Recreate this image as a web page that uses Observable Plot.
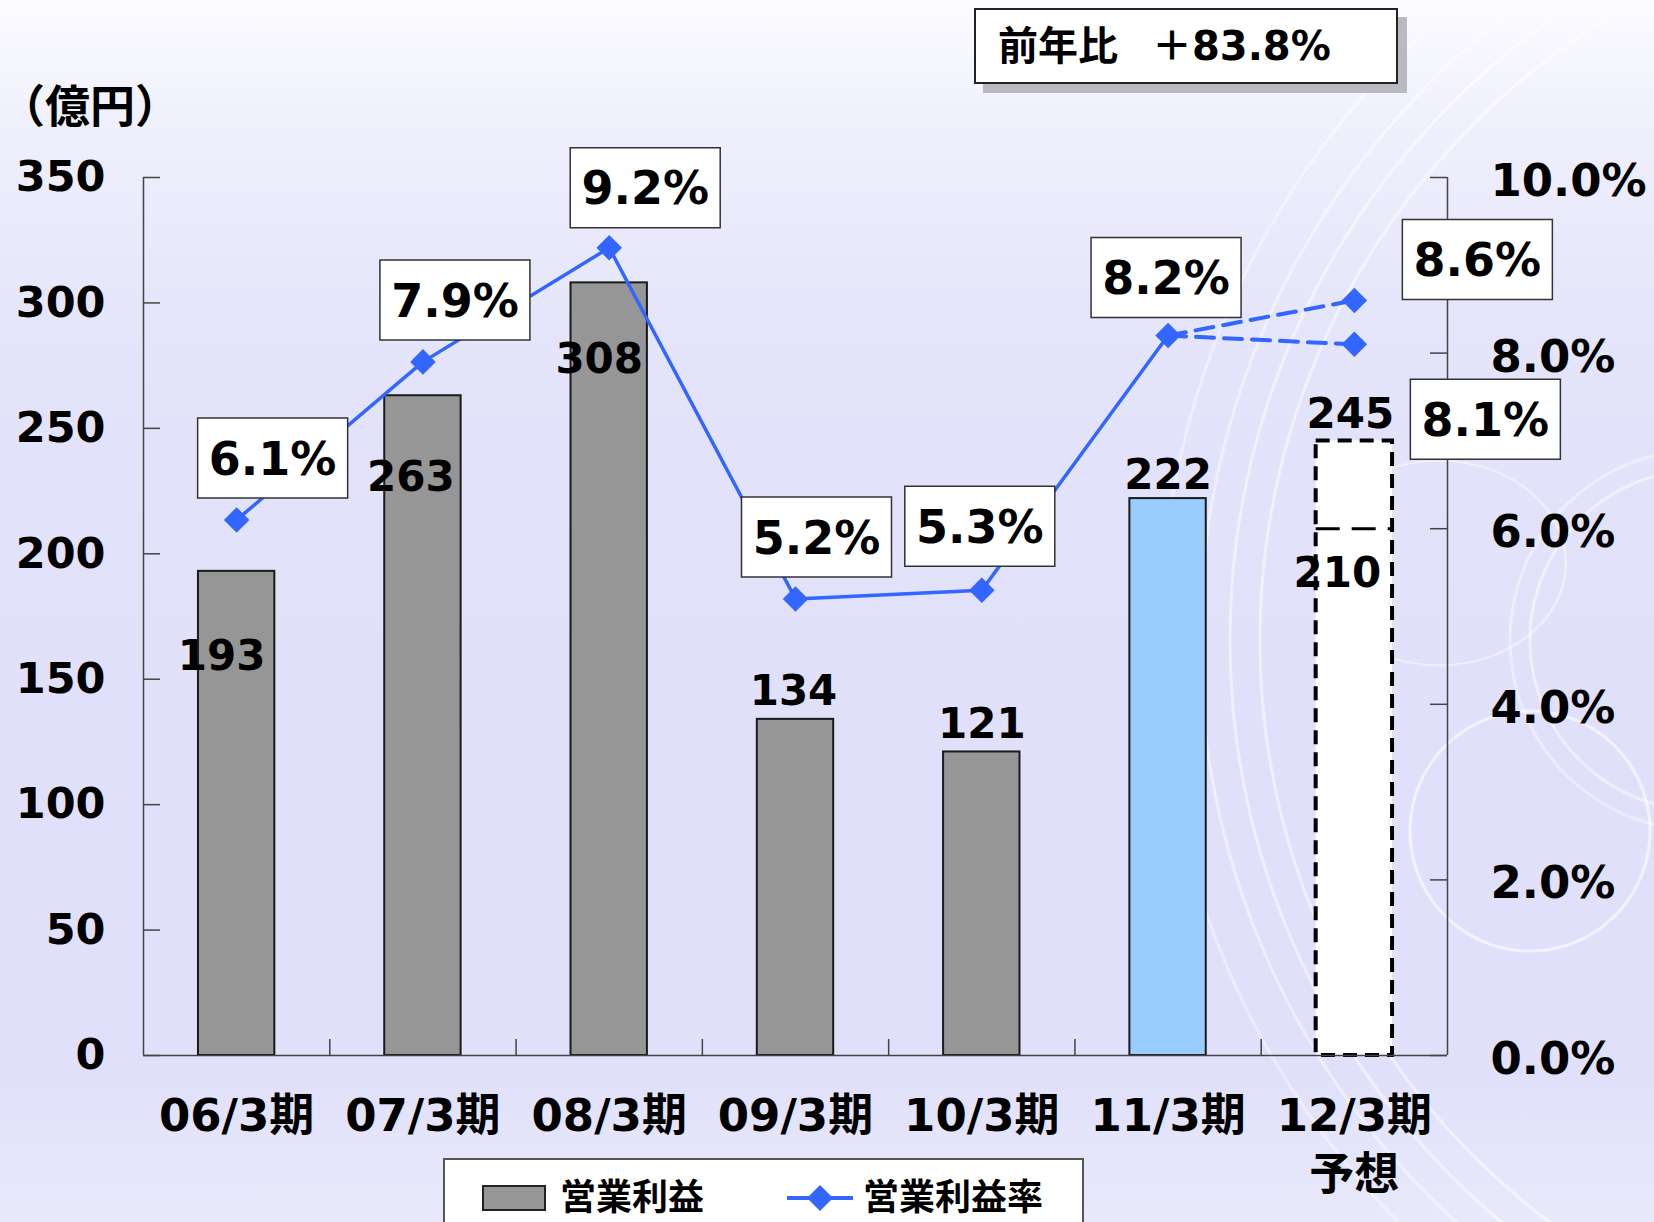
<!DOCTYPE html>
<html><head><meta charset="utf-8">
<script src="https://cdn.jsdelivr.net/npm/d3@7"></script>
<script src="https://cdn.jsdelivr.net/npm/@observablehq/plot@0.6"></script>
<style>
html,body{margin:0;padding:0;}
body{width:1654px;height:1222px;overflow:hidden;font-family:"DejaVu Sans","Noto Sans CJK JP",sans-serif;font-weight:bold;color:#000;}
#page{position:relative;width:1654px;height:1222px;overflow:hidden;
 background:
  radial-gradient(circle at 1990px 640px, transparent 728px, rgba(255,255,255,.5) 729px, rgba(255,255,255,.5) 731px, transparent 732px),
  radial-gradient(circle at 1990px 640px, transparent 758px, rgba(255,255,255,.5) 759px, rgba(255,255,255,.5) 761px, transparent 762px),
  radial-gradient(circle at 1990px 640px, transparent 788px, rgba(255,255,255,.45) 789px, rgba(255,255,255,.45) 791px, transparent 792px),
  radial-gradient(circle at 1990px 640px, transparent 828px, rgba(255,255,255,.4) 829px, rgba(255,255,255,.4) 831px, transparent 832px),
  radial-gradient(circle at 1530px 831px, transparent 118px, rgba(255,255,255,.6) 119px, rgba(255,255,255,.6) 121px, transparent 122px),
  radial-gradient(ellipse 129px 104px at 1439px 563px, transparent 97%, rgba(255,255,255,.6) 98%, transparent 100%),
  radial-gradient(circle at 1700px 640px, transparent 168px, rgba(255,255,255,.5) 169px, rgba(255,255,255,.5) 171px, transparent 172px),
  radial-gradient(circle at 1700px 640px, transparent 188px, rgba(255,255,255,.4) 189px, rgba(255,255,255,.4) 191px, transparent 192px),
  linear-gradient(to bottom, #FBFBFF 0%, #EEEEFC 12%, #E3E3FA 30%, #E0E0FA 60%, #E0E0FA 88%, #E9E9FB 100%);}
#chart{position:absolute;left:0;top:0;}
#unit{position:absolute;left:0px;top:82px;font-size:45px;line-height:52px;}
#yoy{position:absolute;left:974px;top:8px;width:398px;height:72px;background:#fff;border:2px solid #222;box-shadow:9px 9px 0 #B9B9C2;font-size:40px;line-height:72px;padding-left:22px;box-sizing:content-box;}
#yoy span{margin-left:34px;}
#legend{position:absolute;left:443px;top:1158px;width:637px;height:90px;background:#fff;border:2px solid #555;}
.li{position:absolute;top:18px;display:flex;align-items:center;font-size:36px;line-height:40px;}
.sw{width:60px;height:22px;background:#969696;border:2px solid #222;margin-right:14px;}
</style></head><body>
<div id="page">
  <div id="chart"></div>
  <div id="unit">（億円）</div>
  <div id="yoy">前年比<span>＋83.8%</span></div>
  <div id="legend">
    <div class="li" style="left:37px"><div class="sw"></div><span id="lg1"></span></div>
    <div class="li" style="left:340px"><svg width="70" height="32" style="margin-right:8px"><line x1="2" y1="16" x2="68" y2="16" stroke="#3366FF" stroke-width="4"/><polygon points="35,3 48,16 35,29 22,16" fill="#3366FF"/></svg><span id="lg2"></span></div>
  </div>
</div>
<script>
// ---- data ----
const categories = ["06/3期","07/3期","08/3期","09/3期","10/3期","11/3期","12/3期"];
const xTickLabels = ["06/3期","07/3期","08/3期","09/3期","10/3期","11/3期","12/3期\n予想"];
const operatingIncome = [193, 263, 308, 134, 121, 222, 245];   // 億円
const forecastLow = 210;                                      // 12/3期 予想 lower
const operatingMargin = [6.1, 7.9, 9.2, 5.2, 5.3, 8.2];       // %
const forecastMargin = [8.6, 8.1];                            // 12/3期 予想
const leftTicks = [0, 50, 100, 150, 200, 250, 300, 350];
const rightTicks = [0, 2, 4, 6, 8, 10];
const seriesNames = ["営業利益", "営業利益率"];

// ---- styles ----
const barFills = ["#969696","#969696","#969696","#969696","#969696","#99CCFF"];
const lineColor = "#3366FF";
const W = 1654, H = 1222, mL = 143, mR = 207, mT = 177, mB = 167;
const frameW = W - mL - mR, frameH = H - mT - mB;
const step = frameW / categories.length;
const k = leftTicks[leftTicks.length-1] / rightTicks[rightTicks.length-1];
const FONT = '"DejaVu Sans","Noto Sans CJK JP",sans-serif';

document.getElementById("lg1").textContent = seriesNames[0];
document.getElementById("lg2").textContent = seriesNames[1];

const bars = categories.map((c,i)=>({cat:c, v:operatingIncome[i]}));
const actualPts = operatingMargin.map((v,i)=>({cat:categories[i], v}));
const fcCat = categories[categories.length-1];
const lastActual = actualPts[actualPts.length-1];
const fcLines = forecastMargin.flatMap((v,j)=>[{cat:lastActual.cat, v:lastActual.v, s:j},{cat:fcCat, v, s:j}]);
const allPts = actualPts.concat(forecastMargin.map(v=>({cat:fcCat, v})));

// label offsets (px)
const boxOff = [[36,-62],[32,-62],[36,-60],[21,-62],[-2,-64],[-2,-58],[123,-41],[131,75]];
const barLblOff = [[-15,85],[-12,82],[-10,77],[-2,-28],[0,-27],[0,-23],[-4,-26]];
const lowLblOff = [-17,45];

const boxSym = {draw(ctx){ ctx.rect(-75,-40,150,80); }};

const marks = [];
// bars
marks.push(Plot.barY(bars.slice(0,6), {x:"cat", y:"v", fill:(d,i)=>barFills[i], stroke:"#1a1a1a", strokeWidth:2}));
marks.push(Plot.barY(bars.slice(6), {x:"cat", y:"v", fill:"#fff", stroke:"#000", strokeWidth:4, strokeDasharray:"14,8"}));
marks.push(Plot.tickY([{cat:fcCat, v:forecastLow}], {x:"cat", y:"v", stroke:"#000", strokeWidth:3, strokeDasharray:"24,12"}));
// axes lines & ticks
marks.push(Plot.ruleY([0], {stroke:"#444", strokeWidth:1.5}));
marks.push(Plot.ruleX([categories[0]], {x:d=>d, dx:-step/2, stroke:"#444", strokeWidth:1.5}));
marks.push(Plot.ruleX([fcCat], {x:d=>d, dx:step/2, stroke:"#444", strokeWidth:1.5}));
marks.push(Plot.ruleX(categories.slice(0,-1), {x:d=>d, dx:step/2, insetTop:frameH-16, stroke:"#444", strokeWidth:1.5}));
marks.push(Plot.tickY(leftTicks, {y:d=>d, insetRight:frameW-17, stroke:"#444", strokeWidth:1.5}));
marks.push(Plot.tickY(rightTicks.map(t=>t*k), {y:d=>d, insetLeft:frameW-17, stroke:"#444", strokeWidth:1.5}));
marks.push(Plot.axisY({anchor:"left", ticks:leftTicks, tickSize:0, tickPadding:38, fontSize:43, fontWeight:"bold", tickFormat:d=>String(d), label:null}));
marks.push(Plot.axisY({anchor:"right", ticks:rightTicks.map(t=>t*k), tickSize:0, tickPadding:43, fontSize:45, fontWeight:"bold", dy:4, tickFormat:d=>(d/k).toFixed(1)+"%", label:null}));
marks.push(Plot.axisX({anchor:"bottom", tickSize:0, tickPadding:34, fontSize:45, fontWeight:"bold", lineHeight:1.3, tickFormat:(d)=>xTickLabels[categories.indexOf(d)], label:null}));
// margin line
marks.push(Plot.line(actualPts, {x:"cat", y:d=>d.v*k, stroke:lineColor, strokeWidth:3.5}));
marks.push(Plot.line(fcLines, {x:"cat", y:d=>d.v*k, z:"s", stroke:lineColor, strokeWidth:4, strokeDasharray:"18,10"}));
marks.push(Plot.dot(allPts, {x:"cat", y:d=>d.v*k, symbol:"diamond2", r:11.5, fill:lineColor}));
// margin label boxes
allPts.forEach((p,i)=>{
  const [dx,dy] = boxOff[i];
  marks.push(Plot.dot([p], {x:"cat", y:d=>d.v*k, symbol:boxSym, r:1, fill:"#fff", stroke:"#333", strokeWidth:1.5, dx, dy}));
  marks.push(Plot.text([p], {x:"cat", y:d=>d.v*k, text:d=>d.v.toFixed(1)+"%", dx, dy:dy+2, fontSize:46, fontWeight:"bold", fill:"#000"}));
});
// bar value labels
bars.forEach((b,i)=>{
  const [dx,dy] = barLblOff[i];
  marks.push(Plot.text([b], {x:"cat", y:"v", text:d=>String(d.v), dx, dy, fontSize:42, fontWeight:"bold", fill:"#000"}));
});
marks.push(Plot.text([{cat:fcCat, v:forecastLow}], {x:"cat", y:"v", text:d=>String(d.v), dx:lowLblOff[0], dy:lowLblOff[1], fontSize:42, fontWeight:"bold", fill:"#000"}));

const chart = Plot.plot({
  width: W, height: H,
  marginLeft: mL, marginRight: mR, marginTop: mT, marginBottom: mB,
  x: {domain: categories, paddingInner: 0.59, paddingOuter: 0.295, round: false, axis: null},
  y: {domain: [0, leftTicks[leftTicks.length-1]], axis: null},
  style: {background: "transparent", fontFamily: FONT, fontWeight: "bold", color: "#000", overflow: "visible"},
  marks
});
document.getElementById("chart").appendChild(chart);
</script>
</body></html>
